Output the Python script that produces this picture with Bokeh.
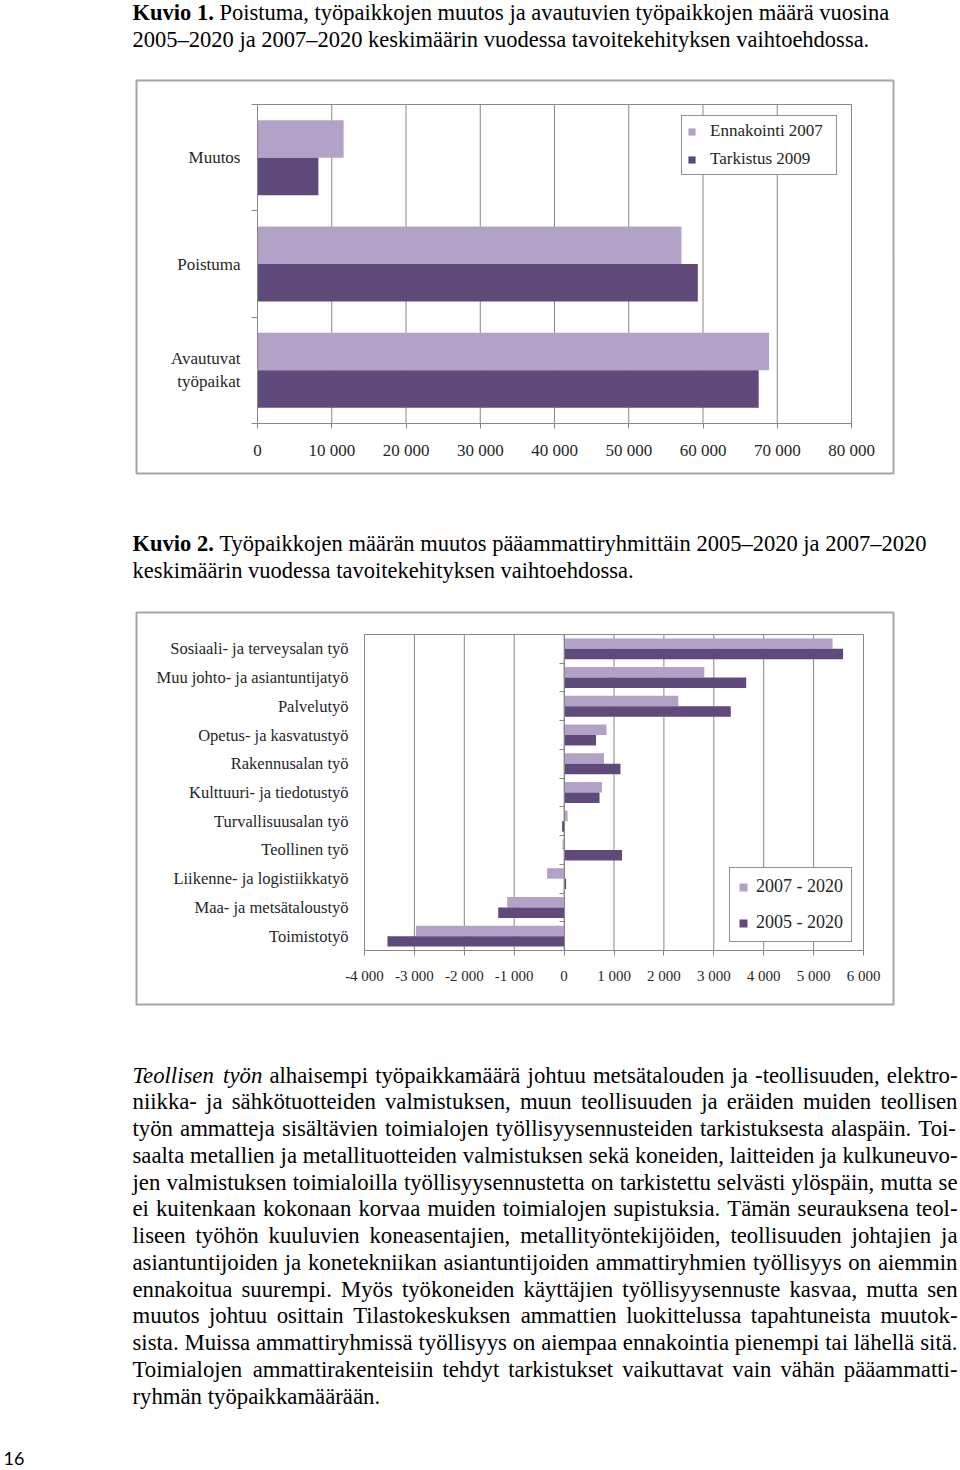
import numpy as np
from bokeh.plotting import figure
from bokeh.models import Range1d, FixedTicker, LinearAxis, Legend, LegendItem
from bokeh.core.properties import value
from bokeh.embed import file_html
from bokeh.resources import INLINE

# ---------------- data ----------------
caption1_label = "Kuvio 1."
caption1_lines = ["Poistuma, työpaikkojen muutos ja avautuvien työpaikkojen määrä vuosina",
                  "2005–2020 ja 2007–2020 keskimäärin vuodessa tavoitekehityksen vaihtoehdossa."]

c1_categories = ["Muutos", "Poistuma", "Avautuvat\ntyöpaikat"]
c1_series = ["Ennakointi 2007", "Tarkistus 2009"]
c1_ennakointi = [11600, 57100, 68900]
c1_tarkistus = [8200, 59300, 67500]
c1_ticks = [0, 10000, 20000, 30000, 40000, 50000, 60000, 70000, 80000]
c1_tick_labels = ["0", "10 000", "20 000", "30 000", "40 000", "50 000", "60 000", "70 000", "80 000"]

caption2_label = "Kuvio 2."
caption2_lines = ["Työpaikkojen määrän muutos pääammattiryhmittäin 2005–2020 ja 2007–2020",
                  "keskimäärin vuodessa tavoitekehityksen vaihtoehdossa."]

c2_categories = ["Sosiaali- ja terveysalan työ", "Muu johto- ja asiantuntijatyö", "Palvelutyö",
                 "Opetus- ja kasvatustyö", "Rakennusalan työ", "Kulttuuri- ja tiedotustyö",
                 "Turvallisuusalan työ", "Teollinen työ", "Liikenne- ja logistiikkatyö",
                 "Maa- ja metsätaloustyö", "Toimistotyö"]
c2_series = ["2007 - 2020", "2005 - 2020"]
c2_2007_2020 = [5380, 2810, 2290, 850, 800, 760, 70, -30, -340, -1140, -2970]
c2_2005_2020 = [5590, 3650, 3340, 640, 1130, 710, -40, 1160, 40, -1320, -3540]
c2_ticks = [-4000, -3000, -2000, -1000, 0, 1000, 2000, 3000, 4000, 5000, 6000]
c2_tick_labels = ["-4 000", "-3 000", "-2 000", "-1 000", "0", "1 000", "2 000", "3 000",
                  "4 000", "5 000", "6 000"]

body_lines = [
    "Teollisen työn alhaisempi työpaikkamäärä johtuu metsätalouden ja -teollisuuden, elektro-",
    "niikka- ja sähkötuotteiden valmistuksen, muun teollisuuden ja eräiden muiden teollisen",
    "työn ammatteja sisältävien toimialojen työllisyysennusteiden tarkistuksesta alaspäin. Toi-",
    "saalta metallien ja metallituotteiden valmistuksen sekä koneiden, laitteiden ja kulkuneuvo-",
    "jen valmistuksen toimialoilla työllisyysennustetta on tarkistettu selvästi ylöspäin, mutta se",
    "ei kuitenkaan kokonaan korvaa muiden toimialojen supistuksia. Tämän seurauksena teol-",
    "liseen työhön kuuluvien koneasentajien, metallityöntekijöiden, teollisuuden johtajien ja",
    "asiantuntijoiden ja konetekniikan asiantuntijoiden ammattiryhmien työllisyys on aiemmin",
    "ennakoitua suurempi. Myös työkoneiden käyttäjien työllisyysennuste kasvaa, mutta sen",
    "muutos johtuu osittain Tilastokeskuksen ammattien luokittelussa tapahtuneista muutok-",
    "sista. Muissa ammattiryhmissä työllisyys on aiempaa ennakointia pienempi tai lähellä sitä.",
    "Toimialojen ammattirakenteisiin tehdyt tarkistukset vaikuttavat vain vähän pääammatti-",
    "ryhmän työpaikkamäärään.",
]
body_italic_words = 2
page_number = "16"

# ---------------- style ----------------
W, PH = 958, 1468          # page canvas
SERIF = "Liberation Serif"
LIGHT = "#B3A2C7"
DARK = "#5F4A7B"
GRID = "#878787"
TXT = "#262626"
BOXC = "#A6A6A6"
LEGB = "#8F8F8F"

# Times-compatible advance widths (per 1000 em), used to lay out text lines
ROMAN = {' ': 250, ',': 250, '-': 333, '.': 250, '–': 500, ':': 278,
         'A': 722, 'B': 667, 'C': 667, 'D': 722, 'E': 611, 'F': 556, 'G': 722, 'H': 722, 'I': 333,
         'J': 389, 'K': 722, 'L': 611, 'M': 889, 'N': 722, 'O': 722, 'P': 556, 'Q': 722, 'R': 667,
         'S': 556, 'T': 611, 'U': 722, 'V': 722, 'W': 944, 'X': 722, 'Y': 722, 'Z': 611,
         'a': 444, 'b': 500, 'c': 444, 'd': 500, 'e': 444, 'f': 333, 'g': 500, 'h': 500, 'i': 278,
         'j': 278, 'k': 500, 'l': 278, 'm': 778, 'n': 500, 'o': 500, 'p': 500, 'q': 500, 'r': 333,
         's': 389, 't': 278, 'u': 500, 'v': 500, 'w': 722, 'x': 500, 'y': 500, 'z': 444,
         'ä': 444, 'ö': 500, 'å': 444}
for d in "0123456789":
    ROMAN[d] = 500
ITALIC = dict(ROMAN)
ITALIC.update({'T': 556, 'a': 500, 'y': 444, 'r': 389, 'k': 444, 'v': 444, 'm': 722, 'f': 278})
BOLD = dict(ROMAN)
BOLD.update({'K': 778, 'u': 556, 'o': 500, 'v': 500, 'i': 278})


def units(s, table):
    return sum(table.get(ch, 500) for ch in s)


def xr(v0, v1, px0, px1):
    """x range so that v0 sits at canvas px0 and v1 at px1"""
    k = (v1 - v0) / (px1 - px0)
    return Range1d(v0 - px0 * k, v0 + (W - px0) * k)


def yr(u0, u1, py0, py1):
    """inverted y range so that u0 sits at canvas py0 (top) and u1 at py1"""
    k = (u1 - u0) / (py1 - py0)
    return Range1d(start=u0 + (PH - py0) * k, end=u0 - py0 * k)


p = figure(width=W, height=PH, x_range=Range1d(0, W), y_range=Range1d(PH, 0),
           output_backend="svg", toolbar_location=None, x_axis_type=None, y_axis_type=None,
           min_border=0)
p.outline_line_color = None
p.background_fill_color = "white"
p.border_fill_color = "white"

# chart frames on the page (canvas px)
C1 = dict(x0=257, x1=851, y0=104, y1=423)
C2 = dict(x0=364, x1=863, y0=634, y1=950)
n1, n2 = len(c1_categories), len(c2_categories)
p.extra_x_ranges = {"c1x": xr(c1_ticks[0], c1_ticks[-1], C1["x0"], C1["x1"]),
                    "c2x": xr(c2_ticks[0], c2_ticks[-1], C2["x0"], C2["x1"])}
p.extra_y_ranges = {"c1y": yr(0, n1, C1["y0"], C1["y1"]),
                    "c2y": yr(0, n2, C2["y0"], C2["y1"])}

X0 = 132  # left text edge (canvas px)
TB = "middle"

# ---------------- captions ----------------
fs_cap = min(765 * 1000 / (units(caption1_label, BOLD) + 250 + units(caption1_lines[0], ROMAN)),
             805 * 1000 / (units(caption2_label, BOLD) + 250 + units(caption2_lines[0], ROMAN)))
fs_cap = round(fs_cap * 2) / 2


def caption(label, lines, y0, lead):
    fs = fs_cap
    bw = (units(label, BOLD) + 250) * fs / 1000
    p.text(x=[X0], y=[y0], text=[label], text_font=value(SERIF), text_font_style="bold",
           text_font_size=value(f"{fs}px"), text_baseline=TB, text_color="black")
    p.text(x=[X0 + bw, X0], y=[y0, y0 + lead], text=lines, text_font=value(SERIF),
           text_font_size=value(f"{fs}px"), text_baseline=TB, text_color="black")


caption(caption1_label, caption1_lines, 12, 27)
caption(caption2_label, caption2_lines, 542.5, 27)

# outer boxes around the two charts
p.quad(left=[136, 136], right=[893, 893], top=[80, 612], bottom=[473, 1004],
       fill_color=None, line_color=BOXC, line_width=2)


# ---------------- bar charts ----------------
def bar_chart(xn, yn, cats, ticks, tick_labels, vals_a, vals_b, bh, cat_fs, tick_fs,
              cat_standoff, tick_standoff, zero_at_left):
    n = len(cats)
    cen = np.arange(n) + 0.5
    kw = dict(x_range_name=xn, y_range_name=yn)
    # vertical gridlines and plot-area outline
    p.segment(x0=ticks, y0=[0] * len(ticks), x1=ticks, y1=[n] * len(ticks),
              line_color=GRID, line_width=1, **kw)
    p.quad(left=[ticks[0]], right=[ticks[-1]], top=[0], bottom=[n],
           fill_color=None, line_color=GRID, line_width=1, **kw)
    ra = p.hbar(y=cen - bh / 2, left=0, right=vals_a, height=bh,
                fill_color=LIGHT, line_color=None, **kw)
    rb = p.hbar(y=cen + bh / 2, left=0, right=vals_b, height=bh,
                fill_color=DARK, line_color=None, **kw)
    # value axis
    ax = LinearAxis(fixed_location=n, bounds=(ticks[0], ticks[-1]),
                    ticker=FixedTicker(ticks=ticks),
                    major_label_overrides={t: l for t, l in zip(ticks, tick_labels)},
                    axis_line_color=GRID, major_tick_line_color=GRID, major_tick_out=5,
                    major_tick_in=0, minor_tick_line_color=None,
                    major_label_text_font=SERIF, major_label_text_font_size=tick_fs,
                    major_label_text_color=TXT, major_label_standoff=tick_standoff, **kw)
    p.add_layout(ax, "below")
    # category axis (labels)
    ay = LinearAxis(fixed_location=0 if zero_at_left else ticks[0], bounds=(0, n),
                    ticker=FixedTicker(ticks=cen.tolist(),
                                       minor_ticks=list(range(n + 1)) if zero_at_left else []),
                    major_label_overrides={float(c): lab for c, lab in zip(cen, cats)},
                    axis_line_color=GRID if zero_at_left else None,
                    major_tick_line_color=None, major_tick_out=0, major_tick_in=0,
                    minor_tick_line_color=GRID if zero_at_left else None,
                    minor_tick_out=6 if zero_at_left else 0, minor_tick_in=0,
                    major_label_text_font=SERIF, major_label_text_font_size=cat_fs,
                    major_label_text_color=TXT, major_label_standoff=cat_standoff, **kw)
    p.add_layout(ay, "left")
    if not zero_at_left:
        az = LinearAxis(fixed_location=0, bounds=(0, n),
                        ticker=FixedTicker(ticks=[], minor_ticks=list(range(n + 1))),
                        axis_line_color=GRID, major_tick_line_color=None,
                        minor_tick_line_color=GRID, minor_tick_out=5, minor_tick_in=0,
                        major_label_text_font_size="0px", **kw)
        p.add_layout(az, "left")
    return ra, rb


ra, rb = bar_chart("c1x", "c1y", c1_categories, c1_ticks, c1_tick_labels,
                   c1_ennakointi, c1_tarkistus, 0.353, "17px", "17px", 11, 12, True)
rc, rd = bar_chart("c2x", "c2y", c2_categories, c2_ticks, c2_tick_labels,
                   c2_2007_2020, c2_2005_2020, 0.365, "16.5px", "15px", 16, 12, False)

leg1 = Legend(items=[LegendItem(label=value(c1_series[0]), renderers=[ra]),
                     LegendItem(label=value(c1_series[1]), renderers=[rb])],
              location=(681, PH - 175), orientation="vertical", margin=0, padding=5, spacing=8,
              glyph_width=9, glyph_height=9, label_standoff=14, label_width=121,
              label_text_font=SERIF, label_text_font_size="17px", label_text_color=TXT,
              border_line_color=LEGB, border_line_width=1.5, border_line_alpha=1,
              background_fill_color="white", background_fill_alpha=1)
p.add_layout(leg1)
leg2 = Legend(items=[LegendItem(label=value(c2_series[0]), renderers=[rc]),
                     LegendItem(label=value(c2_series[1]), renderers=[rd])],
              location=(729, PH - 942), orientation="vertical", margin=0, padding=8, spacing=15,
              glyph_width=10, glyph_height=10, label_standoff=8, label_width=83,
              label_text_font=SERIF, label_text_font_size="18px", label_text_color=TXT,
              border_line_color=LEGB, border_line_width=1.5, border_line_alpha=1,
              background_fill_color="white", background_fill_alpha=1)
p.add_layout(leg2)

# ---------------- body text (justified lines) ----------------
BODY_W = 825
nat = []
for i, line in enumerate(body_lines[:-1]):
    words = line.split(" ")
    u = sum(units(w, ITALIC if (i == 0 and k < body_italic_words) else ROMAN)
            for k, w in enumerate(words))
    nat.append(u + 250 * (len(words) - 1))
fs_body = round(0.995 * BODY_W * 1000 / max(nat) * 4) / 4

rx, ry, rt, ix, iy, it = [], [], [], [], [], []
base, lead = 1074.5, 26.75
for i, line in enumerate(body_lines):
    words = line.split(" ")
    ital = [(i == 0 and k < body_italic_words) for k in range(len(words))]
    widths = [units(w, ITALIC if s else ROMAN) * fs_body / 1000 for w, s in zip(words, ital)]
    if i < len(body_lines) - 1 and len(words) > 1:
        gap = (BODY_W - sum(widths)) / (len(words) - 1)
    else:
        gap = 250 * fs_body / 1000
    x = X0
    y = base + i * lead
    for w, s, wd in zip(words, ital, widths):
        if s:
            ix.append(x); iy.append(y); it.append(w)
        else:
            rx.append(x); ry.append(y); rt.append(w)
        x += wd + gap

p.text(x=rx, y=ry, text=rt, text_font=value(SERIF), text_font_size=value(f"{fs_body}px"),
       text_baseline=TB, text_color="black")
p.text(x=ix, y=iy, text=it, text_font=value(SERIF), text_font_style="italic",
       text_font_size=value(f"{fs_body}px"), text_baseline=TB, text_color="black")
p.text(x=[3], y=[1458], text=[page_number], text_font=value("Lato"),
       text_font_size=value("18px"), text_baseline=TB, text_color="black")

open("out.html", "w").write(file_html(p, INLINE))
